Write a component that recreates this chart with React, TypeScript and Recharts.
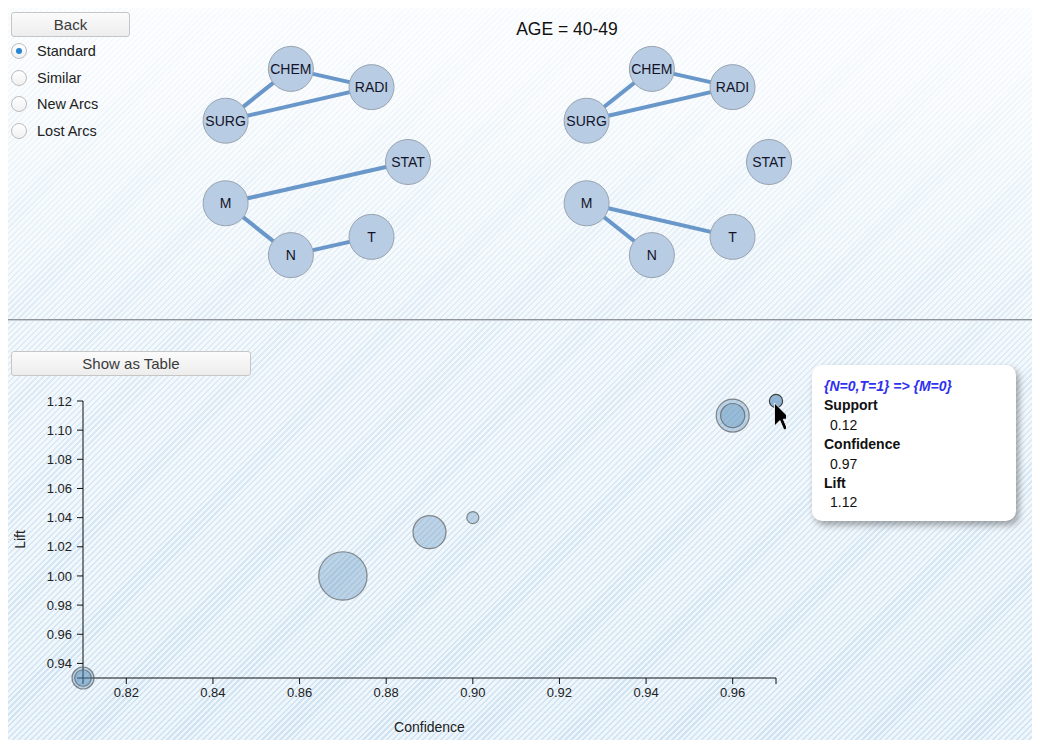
import React from "react";
import { ScatterChart, Scatter, XAxis, YAxis } from "recharts";

const FONT = '"Liberation Sans", Arial, Helvetica, sans-serif';
const EDGE = "#6a97c9";

// node layout on the ring (unit coordinates)
const nodeNames = ["STAT", "RADI", "CHEM", "SURG", "M", "N", "T"];
const nodeX = [1.0, 0.62, -0.22, -0.9, -0.9, -0.22, 0.62];
const nodeY = [0.0, 0.78, 0.97, 0.43, -0.43, -0.97, -0.78];

const leftEdges = [
  ["SURG", "CHEM"],
  ["CHEM", "RADI"],
  ["SURG", "RADI"],
  ["M", "STAT"],
  ["M", "N"],
  ["N", "T"],
];
const rightEdges = [
  ["SURG", "CHEM"],
  ["CHEM", "RADI"],
  ["SURG", "RADI"],
  ["M", "N"],
  ["M", "T"],
];

const ageGroup = "40-49";
const viewModes = ["Standard", "Similar", "New Arcs", "Lost Arcs"];

// association rules
const confidence = [0.81, 0.81, 0.87, 0.89, 0.9, 0.96, 0.96, 0.97];
const lift = [0.93, 0.93, 1.0, 1.03, 1.04, 1.11, 1.11, 1.12];
const support = [0.2, 0.15, 0.44, 0.3, 0.11, 0.3, 0.22, 0.12];
const hoveredIndex = 7;
const hoveredRule = "{N=0,T=1} => {M=0}";

const xTicks = [0.81, 0.82, 0.84, 0.86, 0.88, 0.9, 0.92, 0.94, 0.96, 0.97];
const yTicks = [0.93, 0.94, 0.96, 0.98, 1.0, 1.02, 1.04, 1.06, 1.08, 1.1, 1.12];

const nodes = nodeNames.map((name, i) => ({ name, x: nodeX[i], y: nodeY[i] }));
const nodeByName: Record<string, { name: string; x: number; y: number }> = {};
nodes.forEach((n) => (nodeByName[n.name] = n));

const rules = confidence.map((c, i) => ({
  confidence: c,
  lift: lift[i],
  support: support[i],
  hovered: i === hoveredIndex,
}));

const R_PER_SUPPORT = 55;

function NodeShape(props: any) {
  const { cx, cy, payload } = props;
  return (
    <g>
      <circle cx={cx} cy={cy} r={22.5} fill="#b8cce4" stroke="#98a3b0" strokeWidth={1} />
      <text
        x={cx}
        y={cy}
        textAnchor="middle"
        dominantBaseline="central"
        fontSize={14}
        fontFamily={FONT}
        fill="#141428"
      >
        {payload.name}
      </text>
    </g>
  );
}

function Network({ edges }: { edges: string[][] }) {
  return (
    <ScatterChart width={288} height={288} margin={{ top: 0, right: 0, bottom: 0, left: 0 }}>
      <XAxis type="number" dataKey="x" domain={[-1.5, 1.5]} hide />
      <YAxis type="number" dataKey="y" domain={[-1.5, 1.5]} hide />
      {edges.map(([a, b]) => (
        <Scatter
          key={a + "-" + b}
          data={[nodeByName[a], nodeByName[b]]}
          fill={EDGE}
          line={{ stroke: EDGE, strokeWidth: 4 }}
          shape={() => <g />}
          isAnimationActive={false}
        />
      ))}
      <Scatter data={nodes} shape={NodeShape} isAnimationActive={false} />
    </ScatterChart>
  );
}

function Bubble(props: any) {
  const { cx, cy, payload } = props;
  const r = payload.support * R_PER_SUPPORT;
  const hov = payload.hovered;
  return (
    <g>
      <circle
        cx={cx}
        cy={cy}
        r={r}
        fill={hov ? "rgba(70,130,180,0.55)" : "rgba(70,130,180,0.3)"}
        stroke={hov ? "#333" : "#555"}
        strokeOpacity={hov ? 0.9 : 0.65}
        strokeWidth={1.2}
      />
      {hov && (
        <path
          transform={`translate(${cx - 1.5},${cy + 2}) scale(1.35)`}
          d="M0 0 L0 17 L4 13 L7 20 L9.5 19 L6.5 12 L12 12 Z"
          fill="#000"
          stroke="#fff"
          strokeWidth={0.6}
        />
      )}
    </g>
  );
}

const fmtX = (v: number) => (v === 0.81 || v === 0.97 ? "" : v.toFixed(2));
const fmtY = (v: number) => (v === 0.93 ? "" : v.toFixed(2));

function Button({ label, left, top, width }: { label: string; left: number; top: number; width: number }) {
  return (
    <div
      style={{
        position: "absolute",
        left,
        top,
        width,
        height: 25,
        boxSizing: "border-box",
        border: "1px solid #c6c6c6",
        borderRadius: 3,
        background: "linear-gradient(#fbfbfb, #ededed)",
        textAlign: "center",
        lineHeight: "23px",
        fontSize: 15,
        color: "#3a3a3a",
      }}
    >
      {label}
    </div>
  );
}

export default function App() {
  const h = rules[hoveredIndex];
  return (
    <div
      style={{
        position: "relative",
        width: 1033,
        height: 732,
        marginLeft: -1,
        overflow: "hidden",
        fontFamily: FONT,
        background:
          "linear-gradient(to bottom, rgba(255,255,255,0.85) 0%, rgba(255,255,255,0.3) 45%, rgba(255,255,255,0) 100%), repeating-linear-gradient(135deg, #cfe3f2 0px, #cfe3f2 1.6px, #eff6fb 1.6px, #eff6fb 4.2px)",
      }}
    >
      <Button label="Back" left={4} top={4} width={119} />
      {viewModes.map((m, i) => (
        <div
          key={m}
          style={{ position: "absolute", left: 4, top: 34 + i * 26.6, height: 18, display: "flex", alignItems: "center" }}
        >
          <div
            style={{
              width: 16,
              height: 16,
              boxSizing: "border-box",
              borderRadius: "50%",
              border: "1px solid #bcbcbc",
              background: "linear-gradient(#ffffff, #f0f0f0)",
              display: "flex",
              alignItems: "center",
              justifyContent: "center",
            }}
          >
            {i === 0 && <div style={{ width: 6, height: 6, borderRadius: "50%", background: "#2585d6" }} />}
          </div>
          <span style={{ marginLeft: 10, fontSize: 14.5, color: "#222", lineHeight: "18px" }}>{m}</span>
        </div>
      ))}

      <div
        style={{
          position: "absolute",
          left: 460,
          top: 11,
          width: 200,
          textAlign: "center",
          fontSize: 17.5,
          lineHeight: "20px",
          color: "#111",
        }}
      >
        AGE = {ageGroup}
      </div>

      <div style={{ position: "absolute", left: 161, top: 10 }}>
        <Network edges={leftEdges} />
      </div>
      <div style={{ position: "absolute", left: 522, top: 10 }}>
        <Network edges={rightEdges} />
      </div>

      <div style={{ position: "absolute", left: 0, right: 0, top: 311, height: 1, background: "#8f9499" }} />
      <div style={{ position: "absolute", left: 0, right: 0, top: 312, height: 1, background: "#c9ced3" }} />

      <Button label="Show as Table" left={4} top={343} width={240} />

      <div style={{ position: "absolute", left: 1, top: 382 }}>
        <ScatterChart width={778} height={348} margin={{ top: 11, right: 10, bottom: 0, left: 7 }}>
          <XAxis
            type="number"
            dataKey="confidence"
            domain={[0.81, 0.97]}
            ticks={xTicks}
            interval={0}
            tickFormatter={fmtX}
            stroke="#111"
            tickMargin={4}
            tick={{ fill: "#222", fontSize: 13 }}
            height={60}
            label={{ value: "Confidence", position: "insideBottom", offset: 6, fill: "#222", fontSize: 14 }}
          />
          <YAxis
            type="number"
            dataKey="lift"
            domain={[0.93, 1.12]}
            ticks={yTicks}
            interval={0}
            tickFormatter={fmtY}
            stroke="#111"
            tickMargin={5}
            tick={{ fill: "#222", fontSize: 13 }}
            width={68}
            label={{
              value: "Lift",
              angle: -90,
              position: "insideLeft",
              offset: 5,
              fill: "#222",
              fontSize: 14,
              style: { textAnchor: "middle" },
            }}
          />
          <Scatter data={rules} shape={Bubble} isAnimationActive={false} />
        </ScatterChart>
      </div>

      <div
        style={{
          position: "absolute",
          left: 805,
          top: 357,
          width: 204,
          height: 156,
          boxSizing: "border-box",
          padding: "12px 12px",
          background: "#fff",
          borderRadius: 10,
          boxShadow: "3px 4px 7px rgba(0,0,0,0.35)",
          fontSize: 14,
          lineHeight: "19.4px",
          color: "#111",
        }}
      >
        <div style={{ fontWeight: "bold", fontStyle: "italic", color: "#3030f0" }}>{hoveredRule}</div>
        <div style={{ fontWeight: "bold" }}>Support</div>
        <div style={{ marginLeft: 6 }}>{h.support.toFixed(2)}</div>
        <div style={{ fontWeight: "bold" }}>Confidence</div>
        <div style={{ marginLeft: 6 }}>{h.confidence.toFixed(2)}</div>
        <div style={{ fontWeight: "bold" }}>Lift</div>
        <div style={{ marginLeft: 6 }}>{h.lift.toFixed(2)}</div>
      </div>
    </div>
  );
}
